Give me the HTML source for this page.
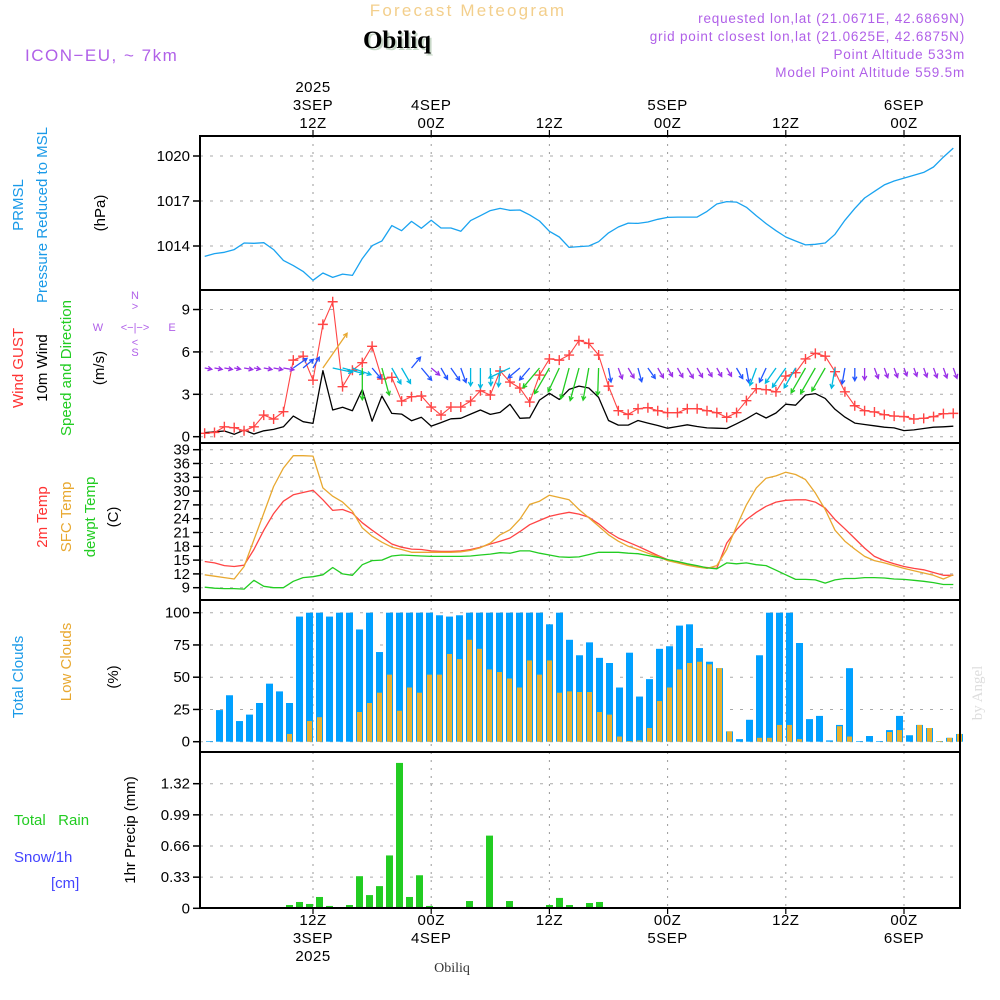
<!DOCTYPE html>
<html><head><meta charset="utf-8">
<style>
html,body{margin:0;padding:0;background:#fff;}
svg{display:block;font-family:"Liberation Sans",sans-serif;}
</style></head>
<body>
<svg id="chart" width="1000" height="1000" viewBox="0 0 1000 1000">
<g id="header">
<text x="468" y="16" font-size="17" fill="#f3cf8c" text-anchor="middle" letter-spacing="2.2">Forecast Meteogram</text>
<text x="399" y="50" font-family="Liberation Serif,serif" font-weight="bold" font-size="25" fill="#c8d8c8" text-anchor="middle">Obiliq</text>
<text x="397" y="48" font-family="Liberation Serif,serif" font-weight="bold" font-size="25" fill="#000" text-anchor="middle">Obiliq</text>
<text x="25" y="61" font-size="17" fill="#b060e8" letter-spacing="1.5">ICON−EU, ~ 7km</text>
<g font-size="13.5" fill="#b060e8" text-anchor="end" letter-spacing="0.8">
<text x="965" y="23">requested lon,lat (21.0671E, 42.6869N)</text>
<text x="965" y="41">grid point closest lon,lat (21.0625E, 42.6875N)</text>
<text x="965" y="59">Point Altitude 533m</text>
<text x="965" y="77">Model Point Altitude 559.5m</text>
</g>
</g>
<g id="grid"></g>
<g id="plots"></g>
<g id="frames" fill="none" stroke="#000">
<rect x="200" y="136" width="760" height="154" stroke-width="2"/>
<rect x="200" y="290" width="760" height="153" stroke-width="2"/>
<rect x="200" y="443" width="760" height="157" stroke-width="2"/>
<rect x="200" y="600" width="760" height="152" stroke-width="2"/>
<rect x="200" y="752" width="760" height="156" stroke-width="2"/>
</g>
<g id="axes" font-size="15" fill="#000"></g>
<g id="leftlabels" font-size="15">
<text transform="translate(23,205) rotate(-90)" text-anchor="middle" fill="#1a9ae8">PRMSL</text>
<text transform="translate(47,215) rotate(-90)" text-anchor="middle" fill="#1a9ae8">Pressure Reduced to MSL</text>
<text transform="translate(105,213) rotate(-90)" text-anchor="middle" fill="#000">(hPa)</text>
<text transform="translate(23,368) rotate(-90)" text-anchor="middle" fill="#ff3333">Wind GUST</text>
<text transform="translate(47,368) rotate(-90)" text-anchor="middle" fill="#000">10m Wind</text>
<text transform="translate(71,368) rotate(-90)" text-anchor="middle" fill="#22cc22">Speed and Direction</text>
<text transform="translate(104,368) rotate(-90)" text-anchor="middle" fill="#000">(m/s)</text>
<g font-size="11" fill="#b060e8">
<text x="135" y="299" text-anchor="middle">N</text>
<text x="135" y="310" text-anchor="middle">&gt;</text>
<text x="98" y="331" text-anchor="middle">W</text>
<text x="135" y="331" text-anchor="middle">&lt;−|−&gt;</text>
<text x="172" y="331" text-anchor="middle">E</text>
<text x="135" y="346" text-anchor="middle">&lt;</text>
<text x="135" y="356" text-anchor="middle">S</text>
</g>
<text transform="translate(47,517) rotate(-90)" text-anchor="middle" fill="#ff3333">2m Temp</text>
<text transform="translate(71,517) rotate(-90)" text-anchor="middle" fill="#e8a830">SFC Temp</text>
<text transform="translate(95,517) rotate(-90)" text-anchor="middle" fill="#22cc22">dewpt Temp</text>
<text transform="translate(118,517) rotate(-90)" text-anchor="middle" fill="#000">(C)</text>
<text transform="translate(23,677) rotate(-90)" text-anchor="middle" fill="#1a9ae8">Total Clouds</text>
<text transform="translate(71,662) rotate(-90)" text-anchor="middle" fill="#e8a830">Low Clouds</text>
<text transform="translate(118,677) rotate(-90)" text-anchor="middle" fill="#000">(%)</text>
<text x="14" y="825" fill="#22cc22" xml:space="preserve">Total   Rain</text>
<text x="14" y="862" fill="#4444ff">Snow/1h</text>
<text x="51" y="888" fill="#4444ff">[cm]</text>
<text transform="translate(135,830) rotate(-90)" text-anchor="middle" fill="#000">1hr Precip (mm)</text>
</g>
<text x="452" y="972" font-family="Liberation Serif,serif" font-size="14" fill="#333" text-anchor="middle">Obiliq</text>
<text transform="translate(982,693) rotate(-90)" font-family="Liberation Serif,serif" font-size="15" fill="#dddddd" text-anchor="middle">by Angel</text>
</svg>
<script>
// ---- data (hourly, h = hours from 00Z 3 SEP) ----
const hours = [1,2,3,4,5,6,7,8,9,10,11,12,13,14,15,16,17,18,19,20,21,22,23,24,25,26,27,28,29,30,31,32,33,34,35,36,37,38,39,40,41,42,43,44,45,46,47,48,49,50,51,52,53,54,55,56,57,58,59,60,61,62,63,64,65,66,67,68,69,70,71,72,73,74,75,76,77];
const pressure = [1013.31,1013.49,1013.58,1013.76,1014.2,1014.18,1014.22,1013.76,1013.04,1012.69,1012.31,1011.71,1012.2,1011.91,1012.13,1012.04,1013.16,1014.02,1014.33,1015.36,1015.02,1015.64,1015.18,1015.71,1015.2,1015.2,1014.98,1015.69,1016.02,1016.36,1016.51,1016.38,1016.4,1016.07,1015.67,1014.98,1014.6,1013.91,1013.96,1014.0,1014.29,1014.87,1015.27,1015.53,1015.51,1015.6,1015.78,1015.91,1015.93,1015.93,1015.93,1016.31,1016.8,1016.96,1016.93,1016.58,1016.02,1015.49,1015.02,1014.6,1014.33,1014.07,1014.11,1014.2,1014.78,1015.71,1016.51,1017.2,1017.64,1018.07,1018.33,1018.53,1018.71,1018.91,1019.27,1019.93,1020.53];
const gust = [0.24,0.3,0.7,0.64,0.42,0.7,1.53,1.25,1.77,5.42,5.7,4.0,7.95,9.55,3.54,4.7,5.24,6.4,4.08,4.2,2.52,2.83,2.88,2.1,1.53,2.1,2.1,2.52,3.25,2.95,4.65,3.87,3.44,2.45,4.36,5.5,5.42,5.78,6.8,6.6,5.78,3.58,1.84,1.58,1.98,2.05,1.84,1.7,1.7,1.98,1.98,1.84,1.7,1.37,1.7,2.55,3.4,3.33,3.18,4.29,4.53,5.5,5.9,5.7,4.6,3.18,2.19,1.84,1.75,1.56,1.46,1.42,1.25,1.3,1.42,1.63,1.65];
const wind10 = [0.28,0.35,0.4,0.17,0.47,0.19,0.42,0.52,0.7,1.46,1.06,0.94,4.67,1.89,2.08,1.84,3.35,1.1,2.88,1.65,1.6,1.13,1.37,0.75,1.0,1.27,1.3,1.6,1.89,1.58,1.72,2.29,1.3,1.34,2.59,3.07,2.64,3.35,3.58,3.45,2.78,1.15,0.82,0.82,1.15,0.96,0.79,0.6,0.72,0.84,0.72,0.62,0.6,0.58,0.91,1.27,1.68,1.32,1.68,2.3,2.23,2.95,3.05,2.71,1.94,1.39,0.96,0.86,0.77,0.67,0.62,0.43,0.48,0.58,0.67,0.7,0.74];
const windDir = [10,10,10,10,10,10,10,10,10,-35,-40,-60,-55,12,15,20,90,50,75,60,60,-50,50,40,60,55,70,90,90,88,95,155,140,130,130,120,115,105,105,100,92,80,70,60,75,55,60,60,60,60,60,60,60,60,60,80,110,115,125,125,120,120,120,120,100,100,90,90,70,70,70,70,70,70,70,70,70];
const temp2m = [14.7,14.4,13.8,13.6,13.9,17.3,21.5,25.1,27.8,29.2,29.7,30.2,28.1,25.8,26.0,25.2,23.1,21.5,20.0,18.5,17.8,17.4,17.3,17.0,16.9,16.9,17.0,17.3,17.8,18.5,19.1,19.8,21.2,22.7,23.6,24.5,25.0,25.4,25.0,24.3,22.9,21.1,19.8,18.9,18.0,17.0,16.0,15.1,14.5,14.0,13.6,13.4,13.2,18.7,21.6,23.8,25.4,26.7,27.6,28.0,28.1,28.1,27.6,26.3,23.8,21.8,19.7,17.6,15.8,14.9,14.2,13.6,13.2,12.9,12.3,11.7,11.7];
const tempSfc = [11.8,11.5,11.2,10.9,13.6,19.4,25.2,31.0,35.0,37.7,37.7,37.6,30.7,28.9,27.6,25.6,22.0,20.2,18.9,17.8,17.3,16.7,16.7,16.7,16.7,16.7,16.8,17.1,17.7,18.7,20.5,21.6,23.9,27.1,27.8,29.1,28.6,28.1,26.0,24.2,22.4,20.5,19.1,18.0,17.3,16.5,15.8,14.9,14.4,13.9,13.5,13.2,13.8,17.3,22.3,27.0,30.7,32.8,33.3,34.1,33.6,32.5,29.6,26.0,21.5,19.1,17.4,15.8,14.9,14.4,13.8,13.2,12.7,12.2,11.7,10.9,11.8];
const dewpt = [9.1,8.9,8.8,8.8,8.7,10.6,9.3,9.0,9.0,10.4,11.2,11.4,11.8,13.4,12.0,11.7,14.0,14.9,15.0,15.9,16.1,16.0,15.9,15.8,15.8,15.8,15.8,15.9,16.1,16.3,16.6,16.5,17.0,17.0,16.5,16.1,15.7,15.6,15.7,16.2,16.7,16.7,16.7,16.5,16.4,16.0,15.6,15.1,14.7,14.2,13.8,13.3,13.1,14.4,14.2,14.4,14.0,13.8,12.8,11.8,10.8,10.8,10.7,10.0,10.7,11.0,11.0,11.2,11.2,11.1,10.9,10.8,10.6,10.4,10.1,9.7,9.7];
// cloud / precip bars are centred half an hour after each hour start
const barHours = [1.5,2.5,3.5,4.5,5.5,6.5,7.5,8.5,9.5,10.5,11.5,12.5,13.5,14.5,15.5,16.5,17.5,18.5,19.5,20.5,21.5,22.5,23.5,24.5,25.5,26.5,27.5,28.5,29.5,30.5,31.5,32.5,33.5,34.5,35.5,36.5,37.5,38.5,39.5,40.5,41.5,42.5,43.5,44.5,45.5,46.5,47.5,48.5,49.5,50.5,51.5,52.5,53.5,54.5,55.5,56.5,57.5,58.5,59.5,60.5,61.5,62.5,63.5,64.5,65.5,66.5,67.5,68.5,69.5,70.5,71.5,72.5,73.5,74.5,75.5,76.5];
const totalCloud = [0.5,24.5,36,16,21,30,45,39,30,97,100,100,97,100,100,87,100,69.5,100,100,100,100,100,98,97,98,100,100,100,100,100,100,100,100,91,100,79,67,77,65,61,42,69,35,48.5,72,74,90,91,72.6,62,57,8,2,17,67,100,100,100,76.5,17.5,20,1,13,57,0.5,4.4,0.5,9,20,5,13,10.6,0.5,3,6];
const lowCloud = [0,0,0,0,0,0,0,0,6,0,16,19,0,0,0,23,30,38,52,24,42,38,52,52,68,64,79,72,56,54,49,42,63,52,63,38,39,38.5,38.5,23,21,4,0.5,1,10.6,31.5,42,56,61,62,60,57,8,0,0,3,3,13,13,2,0,0,0,12,4,0,0,0,7.5,9,0,13,10.6,0.5,3,6];
const precip = [0,0,0,0,0,0,0,0,0.035,0.067,0.046,0.12,0.025,0,0.035,0.34,0.14,0.235,0.56,1.54,0.12,0.35,0.025,0.014,0,0,0.077,0.014,0.77,0,0.077,0.014,0,0,0.035,0.11,0.035,0,0.056,0.067,0,0,0,0,0,0,0,0,0,0,0,0,0,0,0,0,0,0,0,0,0,0,0,0,0,0,0,0,0,0,0,0,0,0,0,0];
const gridHours = [12,24,36,48,60,72];
const pressureTicks = [1014,1017,1020];
const windTicks = [0,3,6,9];
const tempTicks = [9,12,15,18,21,24,27,30,33,36,39];
const cloudTicks = [0,25,50,75,100];
const precipTicks = [0,0.33,0.66,0.99,1.32];
const topLabels = [["2025","3SEP","12Z"],["","4SEP","00Z"],["","","12Z"],["","5SEP","00Z"],["","","12Z"],["","6SEP","00Z"]];
const bottomLabels = [["12Z","3SEP","2025"],["00Z","4SEP",""],["12Z","",""],["00Z","5SEP",""],["12Z","",""],["00Z","6SEP",""]];

// ---- axis functions ----
const X = h => 313 + (h - 12) * 9.85;
const XB = h => 209.5 + (h - 1.5) * 10;   // bar axis (bars drawn at 10px pitch)
const yP = v => 156 + (1020 - v) * 15;
const yW = v => 436.7 - v * 14.13;
const yT = v => 587.7 - (v - 9) * 4.6;
const yC = v => 741.7 - v * 1.29;
const yR = v => 908.3 - v * 94.4;

const NS = 'http://www.w3.org/2000/svg';
function mk(tag, attrs, parent) {
  const e = document.createElementNS(NS, tag);
  for (const k in attrs) e.setAttribute(k, attrs[k]);
  parent.appendChild(e);
  return e;
}
const grid = document.getElementById('grid');
const plots = document.getElementById('plots');
const axes = document.getElementById('axes');

const panels = [[136,290,pressureTicks,yP],[290,443,windTicks,yW],[443,600,tempTicks,yT],[600,752,cloudTicks,yC],[752,908,precipTicks,yR]];
panels.forEach(([t,b,ticks,fy]) => {
  gridHours.forEach(h => {
    const l = mk('line',{x1:X(h),x2:X(h),y1:t,y2:b,stroke:'#999','stroke-width':1,'stroke-dasharray':'2,6'},grid);
    
    
  });
  ticks.forEach(v => {
    const l = mk('line',{x1:200,x2:960,y1:fy(v),y2:fy(v),stroke:'#aaa','stroke-width':1,'stroke-dasharray':'3,7'},grid);
    
    
    const tk = mk('line',{x1:193,x2:200,y1:fy(v),y2:fy(v),stroke:'#000','stroke-width':1.5},axes);
    
    
    const tx = mk('text',{x:190,y:fy(v)+5,'text-anchor':'end'},axes);
    
    
    tx.textContent = String(v);
  });
});

gridHours.forEach((h,i) => {
  topLabels[i].forEach((s,j) => {
    if (!s) return;
    const t = mk('text',{x:X(h),y:92+j*18,'text-anchor':'middle','letter-spacing':'0.5'},axes);
    
    
    t.textContent = s;
  });
  bottomLabels[i].forEach((s,j) => {
    if (!s) return;
    const t = mk('text',{x:X(h),y:925+j*18,'text-anchor':'middle','letter-spacing':'0.5'},axes);
    
    
    t.textContent = s;
  });
  [[130,136],[908,914]].forEach(([a,b]) => {
    const tk = mk('line',{x1:X(h),x2:X(h),y1:a,y2:b,stroke:'#000','stroke-width':1.2},axes);
    
    
  });
});

function poly(vals, fy, color, name, w) {
  const pts = hours.map((h,i) => X(h).toFixed(1)+','+fy(vals[i]).toFixed(1)).join(' ');
  const p = mk('polyline',{points:pts,fill:'none',stroke:color,'stroke-width':w||1.3,'stroke-linejoin':'round'},plots);
  
  
}

poly(pressure, yP, '#1aa3f0', 'pressure-line', 1.3);

poly(wind10, yW, '#000', 'wind-10m-line', 1.3);
poly(gust, yW, '#ff4444', 'wind-gust-line', 1.1);
hours.forEach((h,i) => {
  const x = X(h), y = yW(gust[i]);
  const m = mk('path',{d:`M${x-5},${y}H${x+5}M${x},${y-5}V${y+5}`,stroke:'#ff4444','stroke-width':1.4},plots);
  
  
});
function arrowColor(s){ if(s<0.9) return '#9a30e8'; if(s<1.5) return '#2255ff'; if(s<2.5) return '#00b8e0'; if(s<4) return '#22cc22'; return '#e8a830'; }
hours.forEach((h,i) => {
  const s = wind10[i];
  const L = 5 + 8*s;
  const a = windDir[i]*Math.PI/180;
  const x0 = X(h), y0 = 368;
  const x1 = x0 + L*Math.cos(a), y1 = y0 + L*Math.sin(a);
  const hl = 4.5;
  const b1 = a + Math.PI - 0.5, b2 = a + Math.PI + 0.5;
  const c = arrowColor(s);
  const d = `M${x0.toFixed(1)},${y0}L${x1.toFixed(1)},${y1.toFixed(1)}M${(x1+hl*Math.cos(b1)).toFixed(1)},${(y1+hl*Math.sin(b1)).toFixed(1)}L${x1.toFixed(1)},${y1.toFixed(1)}L${(x1+hl*Math.cos(b2)).toFixed(1)},${(y1+hl*Math.sin(b2)).toFixed(1)}`;
  const p = mk('path',{d:d,stroke:c,'stroke-width':1.3,fill:'none'},plots);
  
  
});

poly(temp2m, yT, '#ff4444', 'temp-2m-line', 1.3);
poly(tempSfc, yT, '#e8a830', 'temp-sfc-line', 1.3);
poly(dewpt, yT, '#22cc22', 'dewpt-line', 1.3);

barHours.forEach((h,i) => {
  const x = XB(h);
  const r = mk('rect',{x:x-3.5,y:yC(totalCloud[i]),width:7,height:Math.max(0.6,yC(0)-yC(totalCloud[i])),fill:'#00a0ff'},plots);
  
  
  if (lowCloud[i] > 0) {
    const q = mk('rect',{x:x-2.5,y:yC(lowCloud[i]),width:5,height:yC(0)-yC(lowCloud[i]),fill:'#e8b030'},plots);
    
    
  }
});

barHours.forEach((h,i) => {
  if (!(precip[i] > 0)) return;
  const x = XB(h);
  const r = mk('rect',{x:x-3.5,y:yR(precip[i]),width:7,height:yR(0)-yR(precip[i]),fill:'#22cc22'},plots);
  
  
});
const base = mk('line',{x1:200,x2:960,y1:yR(0),y2:yR(0),stroke:'#000','stroke-width':1,'stroke-dasharray':'4,2'},plots);


</script>
</body></html>
